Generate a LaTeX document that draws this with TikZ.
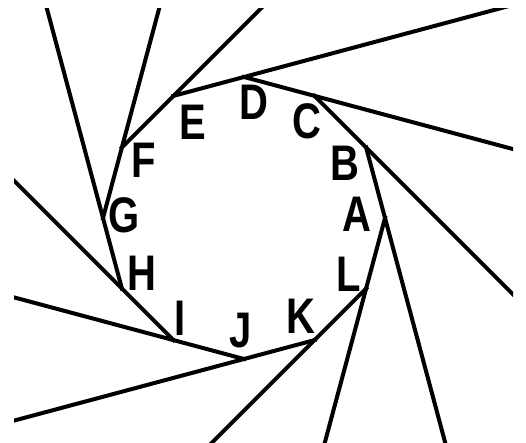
\documentclass[tikz,border=0pt]{standalone}
\usepackage{fontspec}
\newfontfamily\lblfont[FakeStretch=0.8]{Liberation Sans}
\usetikzlibrary{calc}
\tikzset{
  blade/.style = {draw=black,line width=4pt},
  lbl/.style   = {font=\lblfont\bfseries\fontsize{50}{50}\selectfont,
                  inner sep=0pt,text=black},
}

\begin{document}
\begin{tikzpicture}[x=1pt,y=1pt]
  \useasboundingbox (0,0) rectangle (526,443);
  \begin{scope}[shift={(244,225)}]
    \foreach \k in {0,...,11}
      \coordinate (v\k) at (\k*30:141);
  \end{scope}
  \begin{scope}
    \clip (14,0) rectangle (513,434);
    \foreach \k in {0,...,11}{
      \pgfmathtruncatemacro{\n}{mod(\k+1,12)}
      \draw[blade] ($(v\n)!-0.03!(v\k)$) -- ($(v\n)!7!(v\k)$);
    }
  \end{scope}
  \foreach \l/\x/\y in {A/357/229, B/345/280, C/307/322, D/254/341,
                        E/193/321, F/144/283, G/124/228, H/142/170,
                        I/180/125, J/241/112, K/301/127, L/349/169}
    \node[lbl] (lbl\l) at (\x,\y) {\l};
\end{tikzpicture}
\end{document}
